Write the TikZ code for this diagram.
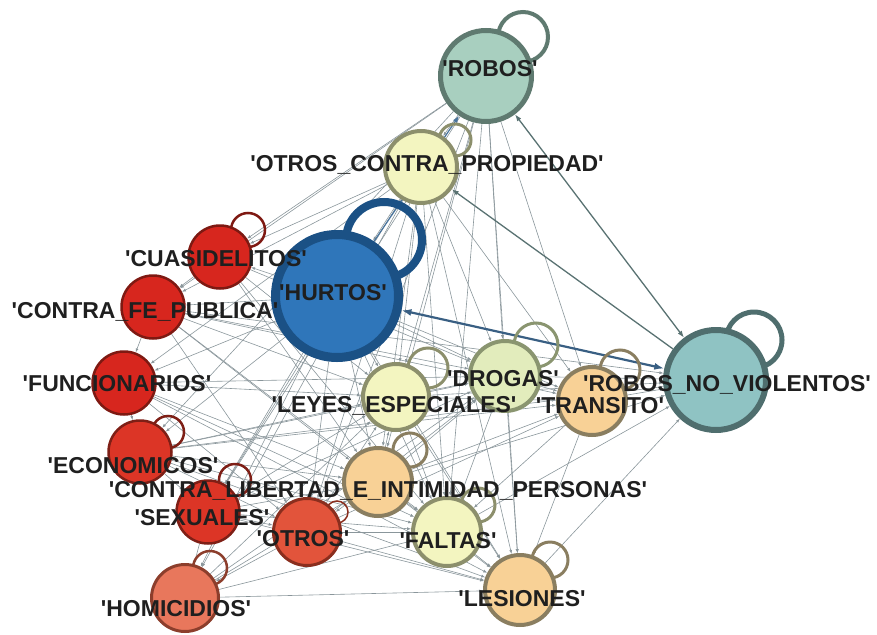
\documentclass[tikz,border=0pt]{standalone}
\usepackage{fontspec}
\setmainfont{Liberation Sans}
\usepackage{xcolor}
\usepackage{tikz}
\usetikzlibrary{arrows.meta,calc}
\pgfdeclarelayer{bg}
\pgfsetlayers{bg,main}
\definecolor{mint}{HTML}{A8CFBF}\definecolor{mintD}{HTML}{5F7A70}
\definecolor{sea}{HTML}{8FC3C3}\definecolor{seaD}{HTML}{4F6E6E}
\definecolor{blue}{HTML}{2F76BA}\definecolor{blueD}{HTML}{1B5185}
\definecolor{cream}{HTML}{F3F5C0}\definecolor{creamD}{HTML}{8C8F6C}
\definecolor{sage}{HTML}{E2ECBC}\definecolor{sageD}{HTML}{8A9570}
\definecolor{peach}{HTML}{F8D196}\definecolor{peachD}{HTML}{8A7E60}
\definecolor{red}{HTML}{D7261E}\definecolor{redD}{HTML}{7E1912}
\definecolor{scarlet}{HTML}{DC3526}\definecolor{scarletD}{HTML}{7E1F16}
\definecolor{coral}{HTML}{E2543B}\definecolor{coralD}{HTML}{8A2E1E}
\definecolor{salmon}{HTML}{E8775C}\definecolor{salmonD}{HTML}{8C3E2C}
\definecolor{linkgray}{HTML}{8A969B}
\newcommand{\qname}[1]{\textquotesingle#1\textquotesingle}

\begin{document}
\begin{tikzpicture}[x=1pt,y=-1pt,>=Latex,
  crime/.style={circle,draw,inner sep=0pt},
  tag/.style={font=\fontsize{23}{25}\selectfont\bfseries,text=black!88,inner sep=0pt,text height=16.5pt,text depth=0pt},
  link/.style={draw=linkgray,line width=0.6pt,-{Latex[length=4pt,width=3pt]}}]
  \useasboundingbox (0,0) rectangle (877,634);
  \node[crime,minimum size=91pt,line width=5pt,fill=mint,draw=mintD] (rob) at (486,76) {};
  \node[crime,minimum size=72pt,line width=4pt,fill=cream,draw=creamD] (ocp) at (421,167) {};
  \node[crime,minimum size=123pt,line width=9pt,fill=blue,draw=blueD] (hur) at (337,296) {};
  \node[crime,minimum size=63pt,line width=2.5pt,fill=red,draw=redD] (cua) at (220,257) {};
  \node[crime,minimum size=63pt,line width=2.5pt,fill=red,draw=redD] (cfp) at (153,307) {};
  \node[crime,minimum size=63pt,line width=2.5pt,fill=red,draw=redD] (fun) at (124,383) {};
  \node[crime,minimum size=63pt,line width=2.5pt,fill=scarlet,draw=scarletD] (eco) at (140,452) {};
  \node[crime,minimum size=63pt,line width=2.5pt,fill=scarlet,draw=scarletD] (sex) at (208,512) {};
  \node[crime,minimum size=68pt,line width=4pt,fill=peach,draw=peachD] (clip) at (378,482) {};
  \node[crime,minimum size=67pt,line width=3pt,fill=coral,draw=coralD] (otr) at (307,532) {};
  \node[crime,minimum size=67pt,line width=3pt,fill=salmon,draw=salmonD] (hom) at (185,598) {};
  \node[crime,minimum size=66pt,line width=4pt,fill=cream,draw=creamD] (ley) at (396,397) {};
  \node[crime,minimum size=70pt,line width=4pt,fill=sage,draw=sageD] (dro) at (505,376) {};
  \node[crime,minimum size=68pt,line width=4pt,fill=peach,draw=peachD] (tra) at (592,401) {};
  \node[crime,minimum size=100pt,line width=6pt,fill=sea,draw=seaD] (rnv) at (716,380) {};
  \node[crime,minimum size=68pt,line width=4pt,fill=cream,draw=creamD] (fal) at (447,532) {};
  \node[crime,minimum size=70pt,line width=4pt,fill=peach,draw=peachD] (les) at (520,590) {};

  \begin{pgfonlayer}{bg}
    \foreach \a/\b in {rob/ocp,rob/ley,rob/dro,rob/tra,rob/fal,rob/les,rob/clip,rob/otr,rob/cua,rob/cfp,rob/sex,rob/eco,
      ocp/hur,ocp/ley,ocp/dro,ocp/tra,ocp/fal,ocp/les,ocp/clip,ocp/otr,ocp/cua,ocp/cfp,ocp/fun,ocp/sex,ocp/hom,
      hur/cua,hur/cfp,hur/fun,hur/eco,hur/sex,hur/clip,hur/otr,hur/hom,hur/ley,hur/dro,hur/tra,hur/fal,hur/les,
      cua/cfp,cua/ley,cua/dro,cua/clip,cua/fal,
      cfp/fun,cfp/ley,cfp/dro,cfp/tra,cfp/clip,cfp/otr,cfp/fal,cfp/rnv,
      fun/eco,fun/ley,fun/dro,fun/clip,fun/otr,fun/fal,fun/les,
      eco/sex,eco/ley,eco/dro,eco/tra,eco/clip,eco/otr,eco/fal,eco/les,eco/rnv,
      sex/clip,sex/otr,sex/hom,sex/ley,sex/dro,sex/fal,sex/les,
      clip/otr,clip/ley,clip/dro,clip/tra,clip/fal,clip/les,clip/rnv,
      otr/hom,otr/ley,otr/dro,otr/tra,otr/fal,otr/les,
      hom/ley,hom/dro,hom/fal,hom/les,hom/clip,
      ley/dro,ley/tra,ley/fal,ley/les,ley/rnv,
      dro/tra,dro/fal,dro/les,dro/rnv,
      tra/fal,tra/les,tra/rnv,
      fal/les,fal/rnv,les/rnv}
      \draw[link] (\a) -- (\b);
    \draw[{Latex[length=10pt,width=7pt]}-{Latex[length=10pt,width=7pt]},line width=2.2pt,draw=blueD!70!gray] (hur) -- (rnv);
    \draw[{Latex[length=7pt,width=5pt]}-{Latex[length=7pt,width=5pt]},line width=1.3pt,draw=seaD!80!gray] (rob) -- (rnv);
    \draw[{Latex[length=7pt,width=5pt]}-,line width=1.3pt,draw=seaD!80!gray] (ocp) -- (rnv);
    \draw[-{Latex[length=7pt,width=5pt]},line width=1.2pt,draw=blueD!80] (hur) -- (rob);
    \foreach \n/\dx/\dy/\r/\w/\c in {rob/37/-39/25/4/mintD,rnv/38/-40/28/5/seaD,hur/47/-56/38/8/blueD,
      cua/28/-27/17/2.5/redD,eco/28/-20/16/2.5/scarletD,sex/27/-32/16/2.5/scarletD,hom/25/-30/17/2.5/salmonD,
      otr/30/-20/11/1.5/coralD,ocp/34/-27/16/3/creamD,ley/32/-29/20/3/creamD,dro/31/-31/22/3/sageD,
      tra/28/-31/20/3/peachD,clip/32/-32/17/3/peachD,fal/31/-27/17/3/creamD,les/30/-30/18/3/peachD}
      \draw[line width=\w pt,draw=\c] ($(\n)+(\dx,\dy)$) circle[radius=\r];
  \end{pgfonlayer}

  \node[tag] (robL) at ($(rob)+(4,-8)$) {\qname{ROBOS}};
  \node[tag] (ocpL) at ($(ocp)+(6,-4)$) {\qname{OTROS\_CONTRA\_PROPIEDAD}};
  \node[tag] (hurL) at ($(hur)+(-4,-4)$) {\qname{HURTOS}};
  \node[tag] (cuaL) at ($(cua)+(-4,1)$) {\qname{CUASIDELITOS}};
  \node[tag] (cfpL) at ($(cfp)+(-8,3)$) {\qname{CONTRA\_FE\_PUBLICA}};
  \node[tag] (funL) at ($(fun)+(-7,0)$) {\qname{FUNCIONARIOS}};
  \node[tag] (ecoL) at ($(eco)+(-7,13)$) {\qname{ECONOMICOS}};
  \node[tag] (clipL) at ($(clip)+(0,7)$) {\qname{CONTRA\_LIBERTAD\_E\_INTIMIDAD\_PERSONAS}};
  \node[tag] (sexL) at ($(sex)+(-6,5)$) {\qname{SEXUALES}};
  \node[tag] (otrL) at ($(otr)+(-4,6)$) {\qname{OTROS}};
  \node[tag] (homL) at ($(hom)+(-9,10)$) {\qname{HOMICIDIOS}};
  \node[tag] (leyL) at ($(ley)+(-2,7)$) {\qname{LEYES\_ESPECIALES}};
  \node[tag] (droL) at ($(dro)+(-2,2)$) {\qname{DROGAS}};
  \node[tag] (traL) at ($(tra)+(8,4)$) {\qname{TRANSITO}};
  \node[tag] (rnvL) at ($(rnv)+(11,3)$) {\qname{ROBOS\_NO\_VIOLENTOS}};
  \node[tag] (falL) at ($(fal)+(1,8)$) {\qname{FALTAS}};
  \node[tag] (lesL) at ($(les)+(2,8)$) {\qname{LESIONES}};
\end{tikzpicture}
\end{document}
